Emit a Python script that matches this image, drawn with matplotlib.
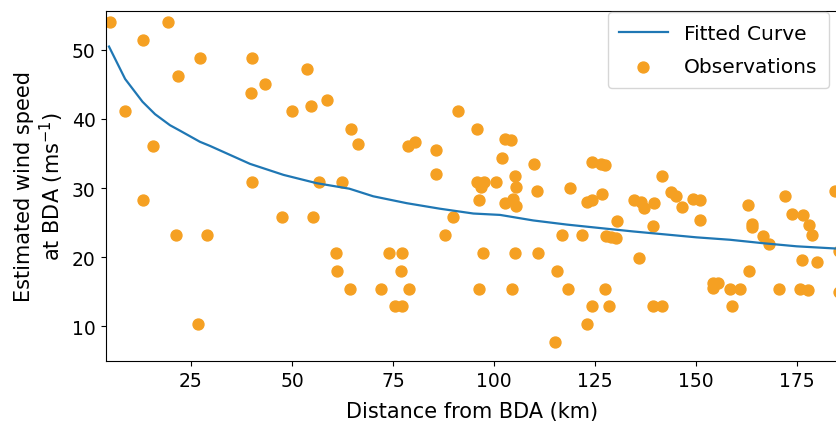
import matplotlib
matplotlib.use('Agg')
import matplotlib.pyplot as plt

plt.rcParams['font.family'] = ['DejaVu Sans']

# fitted curve
fit_x = [4.7, 8.7, 13.0, 16.1, 19.8, 22.3, 27.2, 29.7, 39.6, 47.9, 56.1, 64.2,
         70.1, 78.4, 86.6, 94.9, 101.5, 109.7, 118.0, 126.2, 134.5, 143.7,
         150.1, 158.4, 166.6, 174.9, 185.5]
fit_y = [50.5, 45.8, 42.5, 40.7, 39.1, 38.3, 36.7, 36.1, 33.5, 31.9, 30.7, 29.9,
         28.8, 27.8, 27.0, 26.3, 26.1, 25.3, 24.7, 24.2, 23.7, 23.2,
         22.85, 22.5, 22.0, 21.55, 21.2]

# observations
obs_x = [5.0, 19.3, 13.1, 27.3, 40.0, 21.7, 43.3, 39.8, 53.6, 8.7, 50.0, 54.6,
         58.7, 64.7, 15.7, 40.0, 56.7, 62.3, 13.1, 21.2, 29.0, 47.6, 55.1, 60.9,
         61.1, 64.4, 26.7, 66.4, 91.2, 95.9, 78.6, 80.5, 85.6, 85.6, 102.8, 104.2,
         102.0, 95.9, 97.6, 96.7, 100.4, 96.3, 102.8, 89.9, 87.8, 74.1, 77.3, 76.9,
         72.1, 79.0, 75.5, 77.3, 96.3, 104.4, 97.4, 110.0, 105.3, 105.4, 110.7, 104.8,
         105.4, 118.7, 124.3, 126.6, 127.5, 126.7, 123.1, 124.2, 130.5, 134.6, 136.4,
         137.1, 139.7, 141.6, 143.7, 139.4, 116.8, 121.8, 127.7, 129.0, 130.2, 105.3,
         111.0, 115.7, 135.9, 118.3, 127.4, 124.3, 128.5, 139.4, 141.6, 123.0, 115.2,
         145.1, 146.6, 149.2, 151.1, 150.9, 162.8, 163.8, 163.8, 172.1, 173.7, 176.5,
         177.9, 184.4, 166.7, 168.0, 178.8, 185.3, 176.2, 179.9, 163.2, 154.1, 155.4,
         154.2, 158.4, 161.0, 170.5, 175.8, 177.7, 185.3, 158.8]
obs_y = [54.0, 54.0, 51.4, 48.9, 48.9, 46.3, 45.1, 43.8, 47.2, 41.2, 41.2, 41.9,
         42.8, 38.5, 36.1, 30.9, 30.9, 30.9, 28.3, 23.2, 23.2, 25.8, 25.8, 20.6,
         18.0, 15.4, 10.3, 36.4, 41.2, 38.5, 36.1, 36.6, 35.5, 32.1, 37.1, 36.9,
         34.3, 30.9, 30.9, 30.1, 30.9, 28.3, 27.8, 25.8, 23.2, 20.6, 20.6, 18.0,
         15.4, 15.4, 12.9, 12.9, 15.4, 15.4, 20.6, 33.5, 31.8, 30.2, 29.5, 28.4,
         27.4, 30.0, 33.7, 33.5, 33.3, 29.1, 27.9, 28.3, 25.2, 28.2, 28.0,
         27.1, 27.8, 31.7, 29.4, 24.5, 23.2, 23.2, 23.0, 22.9, 22.8, 20.6,
         20.6, 18.0, 19.8, 15.4, 15.4, 12.9, 12.9, 12.9, 12.9, 10.3, 7.7,
         28.8, 27.2, 28.4, 28.2, 25.3, 27.6, 24.8, 24.3, 28.8, 26.3, 26.1,
         24.6, 29.6, 23.0, 21.9, 23.2, 20.8, 19.5, 19.3, 18.0, 16.3, 16.2,
         15.5, 15.4, 15.4, 15.4, 15.4, 15.2, 14.9, 12.9]

fig = plt.figure(figsize=(8.36, 4.27), dpi=100)
ax = fig.add_axes([105.5 / 836, 1 - 362 / 427, (837.7 - 105.5) / 836, 350 / 427])

ax.plot(fit_x, fit_y, color='#1f77b4', lw=1.6, label='Fitted Curve', zorder=3)
ax.scatter(obs_x, obs_y, s=62, color='#f5a022', label='Observations', zorder=2)

ax.set_xlim(3.84, 185.07)
ax.set_ylim(4.93, 55.65)
ax.set_xticks([25, 50, 75, 100, 125, 150, 175])
ax.set_yticks([10, 20, 30, 40, 50])
ax.tick_params(labelsize=13.5)

ax.set_xlabel('Distance from BDA (km)', fontsize=15, labelpad=8)
ax.set_ylabel('Estimated wind speed\nat BDA (ms$^{-1}$)', fontsize=15)
ax.legend(loc='upper right', bbox_to_anchor=(0.988, 0.996), borderaxespad=0,
          fontsize=14.5, labelspacing=0.7, borderpad=0.58, handlelength=2.4)

fig.savefig('out.png', dpi=100)
